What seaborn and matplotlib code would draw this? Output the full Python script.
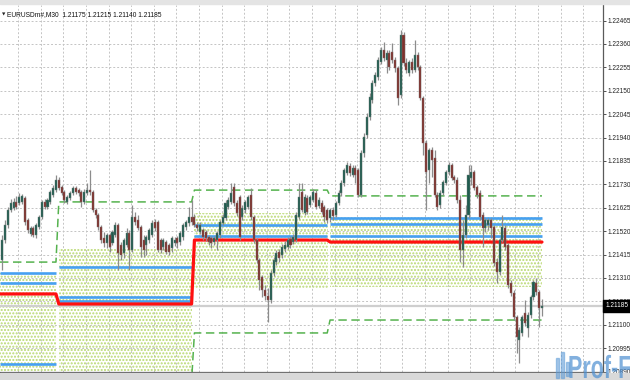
import numpy as np
import pandas as pd
import matplotlib
matplotlib.use("Agg")
import matplotlib.pyplot as plt
import matplotlib.transforms as mtransforms
from matplotlib.patches import Rectangle, PathPatch
from matplotlib.textpath import TextPath
from matplotlib.font_manager import FontProperties
import seaborn as sns

# ---------------- data ----------------
opens = [1.21391,1.21480,1.21547,1.21615,1.21624,1.21651,1.21646,1.21651,1.21669,1.21570,
         1.21507,1.21534,1.21503,1.21538,1.21583,1.21651,1.21628,1.21651,1.21682,1.21704,
         1.21749,1.21718,1.21696,1.21651,1.21669,1.21691,1.21713,1.21704,1.21696,1.21651,
         1.21691,1.21704,1.21696,1.21615,1.21592,1.21538,1.21489,1.21467,1.21503,1.21467,
         1.21503,1.21547,1.21458,1.21422,1.21458,1.21512,1.21435,1.21583,1.21570,1.21538,
         1.21480,1.21458,1.21480,1.21503,1.21561,1.21561,1.21480,1.21449,1.21471,1.21458,
         1.21444,1.21467,1.21489,1.21471,1.21494,1.21538,1.21556,1.21583,1.21583,1.21547,
         1.21516,1.21525,1.21516,1.21494,1.21489,1.21471,1.21480,1.21503,1.21556,1.21579,
         1.21628,1.21651,1.21718,1.21646,1.21673,1.21583,1.21615,1.21628,1.21682,1.21583,
         1.21480,1.21391,1.21314,1.21256,1.21229,1.21211,1.21332,1.21381,1.21426,1.21413,
         1.21440,1.21449,1.21485,1.21471,1.21480,1.21583,1.21696,1.21601,1.21669,1.21637,
         1.21660,1.21691,1.21633,1.21646,1.21628,1.21615,1.21579,1.21615,1.21592,1.21646,
         1.21691,1.21736,1.21781,1.21812,1.21772,1.21803,1.21794,1.21682,1.21870,1.21951,
         1.22032,1.22108,1.22185,1.22212,1.22279,1.22333,1.22288,1.22319,1.22324,1.22288,
         1.22252,1.22131,1.22400,1.22274,1.22229,1.22279,1.22243,1.22310,1.22256,1.22117,
         1.21915,1.21794,1.21884,1.21848,1.21682,1.21637,1.21691,1.21736,1.21785,1.21817,
         1.21763,1.21749,1.21660,1.21435,1.21503,1.21592,1.21758,1.21785,1.21718,1.21691,
         1.21592,1.21534,1.21547,1.21570,1.21538,1.21381,1.21337,1.21480,1.21534,1.21458,
         1.21287,1.21242,1.21135,1.21031,1.21063,1.21153,1.21085,1.21144,1.21224,1.21287,
         1.21247,1.21175]
highs = [1.21503,1.21570,1.21628,1.21664,1.21669,1.21678,1.21691,1.21687,1.21678,1.21579,
         1.21543,1.21543,1.21556,1.21592,1.21660,1.21664,1.21669,1.21704,1.21727,1.21772,
         1.21763,1.21727,1.21704,1.21682,1.21700,1.21722,1.21722,1.21713,1.21704,1.21709,
         1.21736,1.21794,1.21704,1.21624,1.21601,1.21547,1.21516,1.21512,1.21512,1.21525,
         1.21561,1.21556,1.21471,1.21489,1.21534,1.21525,1.21637,1.21606,1.21592,1.21547,
         1.21503,1.21503,1.21534,1.21570,1.21574,1.21570,1.21489,1.21489,1.21480,1.21467,
         1.21498,1.21494,1.21498,1.21520,1.21556,1.21570,1.21628,1.21660,1.21597,1.21561,
         1.21561,1.21534,1.21525,1.21503,1.21498,1.21498,1.21520,1.21570,1.21597,1.21660,
         1.21673,1.21736,1.21736,1.21660,1.21682,1.21637,1.21660,1.21682,1.21713,1.21592,
         1.21489,1.21399,1.21323,1.21278,1.21265,1.21346,1.21404,1.21435,1.21440,1.21462,
         1.21476,1.21494,1.21498,1.21507,1.21606,1.21736,1.21736,1.21687,1.21682,1.21682,
         1.21709,1.21704,1.21673,1.21660,1.21637,1.21624,1.21624,1.21628,1.21655,1.21704,
         1.21749,1.21803,1.21830,1.21826,1.21817,1.21817,1.21803,1.21884,1.21960,1.22050,
         1.22140,1.22198,1.22234,1.22301,1.22346,1.22369,1.22333,1.22333,1.22364,1.22301,
         1.22261,1.22422,1.22413,1.22297,1.22288,1.22297,1.22378,1.22324,1.22265,1.22126,
         1.21929,1.21893,1.21897,1.21884,1.21696,1.21704,1.21749,1.21794,1.21830,1.21826,
         1.21772,1.21763,1.21682,1.21570,1.21637,1.21817,1.21817,1.21794,1.21727,1.21704,
         1.21606,1.21579,1.21579,1.21579,1.21547,1.21399,1.21489,1.21592,1.21547,1.21467,
         1.21301,1.21256,1.21144,1.21090,1.21144,1.21211,1.21157,1.21233,1.21301,1.21310,
         1.21256,1.21215]
lows = [1.21346,1.21467,1.21534,1.21606,1.21615,1.21619,1.21637,1.21642,1.21547,1.21512,
        1.21498,1.21494,1.21489,1.21529,1.21574,1.21619,1.21619,1.21642,1.21673,1.21696,
        1.21704,1.21682,1.21646,1.21642,1.21660,1.21682,1.21687,1.21678,1.21628,1.21642,
        1.21682,1.21682,1.21606,1.21579,1.21525,1.21467,1.21449,1.21444,1.21426,1.21458,
        1.21494,1.21346,1.21391,1.21399,1.21449,1.21346,1.21426,1.21547,1.21525,1.21404,
        1.21404,1.21413,1.21467,1.21494,1.21520,1.21426,1.21422,1.21435,1.21417,1.21413,
        1.21426,1.21453,1.21444,1.21458,1.21480,1.21525,1.21543,1.21547,1.21538,1.21520,
        1.21507,1.21480,1.21476,1.21458,1.21444,1.21458,1.21435,1.21489,1.21547,1.21570,
        1.21619,1.21642,1.21633,1.21588,1.21480,1.21570,1.21601,1.21619,1.21570,1.21467,
        1.21377,1.21256,1.21224,1.21211,1.21112,1.21197,1.21319,1.21368,1.21381,1.21399,
        1.21426,1.21440,1.21444,1.21462,1.21471,1.21574,1.21606,1.21592,1.21597,1.21628,
        1.21651,1.21619,1.21624,1.21597,1.21561,1.21556,1.21561,1.21570,1.21583,1.21637,
        1.21678,1.21722,1.21772,1.21767,1.21763,1.21736,1.21673,1.21673,1.21853,1.21938,
        1.22019,1.22095,1.22171,1.22198,1.22270,1.22283,1.22229,1.22243,1.22274,1.22234,
        1.22086,1.22117,1.22261,1.22229,1.22216,1.22229,1.22234,1.22243,1.22108,1.21862,
        1.21615,1.21736,1.21763,1.21673,1.21615,1.21624,1.21682,1.21727,1.21772,1.21749,
        1.21736,1.21646,1.21381,1.21359,1.21489,1.21579,1.21727,1.21704,1.21669,1.21570,
        1.21449,1.21516,1.21525,1.21489,1.21364,1.21287,1.21323,1.21471,1.21435,1.21265,
        1.21229,1.21121,1.20973,1.20928,1.21049,1.21094,1.21045,1.21130,1.21211,1.21233,
        1.21090,1.21140]
closes = [1.21480,1.21547,1.21615,1.21646,1.21651,1.21628,1.21673,1.21678,1.21561,1.21525,
          1.21534,1.21503,1.21547,1.21583,1.21651,1.21628,1.21660,1.21696,1.21713,1.21749,
          1.21713,1.21691,1.21660,1.21673,1.21691,1.21713,1.21696,1.21691,1.21651,1.21696,
          1.21704,1.21696,1.21615,1.21592,1.21538,1.21480,1.21467,1.21503,1.21449,1.21516,
          1.21547,1.21422,1.21413,1.21480,1.21512,1.21435,1.21583,1.21561,1.21534,1.21449,
          1.21435,1.21494,1.21525,1.21556,1.21534,1.21435,1.21435,1.21480,1.21426,1.21426,
          1.21489,1.21480,1.21467,1.21512,1.21547,1.21561,1.21583,1.21561,1.21547,1.21534,
          1.21547,1.21494,1.21489,1.21471,1.21467,1.21489,1.21512,1.21561,1.21583,1.21646,
          1.21660,1.21691,1.21646,1.21601,1.21494,1.21624,1.21651,1.21673,1.21583,1.21480,
          1.21391,1.21301,1.21256,1.21229,1.21211,1.21332,1.21391,1.21422,1.21399,1.21449,
          1.21458,1.21480,1.21458,1.21494,1.21592,1.21673,1.21615,1.21673,1.21606,1.21673,
          1.21696,1.21628,1.21660,1.21606,1.21583,1.21570,1.21615,1.21588,1.21646,1.21691,
          1.21736,1.21794,1.21817,1.21781,1.21803,1.21772,1.21682,1.21870,1.21942,1.22032,
          1.22122,1.22185,1.22220,1.22288,1.22333,1.22297,1.22319,1.22256,1.22288,1.22252,
          1.22117,1.22400,1.22274,1.22243,1.22279,1.22243,1.22310,1.22256,1.22117,1.21915,
          1.21785,1.21884,1.21839,1.21682,1.21628,1.21691,1.21740,1.21785,1.21817,1.21758,
          1.21749,1.21660,1.21435,1.21503,1.21592,1.21772,1.21785,1.21713,1.21682,1.21583,
          1.21534,1.21570,1.21570,1.21534,1.21377,1.21337,1.21480,1.21538,1.21449,1.21278,
          1.21242,1.21135,1.21045,1.21076,1.21135,1.21108,1.21144,1.21224,1.21292,1.21247,
          1.21175,1.21185]

symbol_title = "EURUSDm#,M30  1.21175 1.21215 1.21140 1.21185"
last_price = 1.21185
last_label = "1.21185"
price_ticks = [1.20890, 1.20995, 1.21100, 1.21205, 1.21310, 1.21415, 1.21520, 1.21625,
               1.21730, 1.21835, 1.21940, 1.22045, 1.22150, 1.22255, 1.22360, 1.22465]
price_tick_labels = ["1.20890", "1.20995", "1.21100", "1.21205", "1.21310", "1.21415",
                     "1.21520", "1.21625", "1.21730", "1.21835", "1.21940", "1.22045",
                     "1.22150", "1.22255", "1.22360", "1.22465"]

# daily indicator levels (one entry per trading day shown)
day_first_bar = [0, 20, 68, 116]
day_last_bar = [19, 67, 115, 191]
red_levels = [1.21238, 1.21193, 1.21480, 1.21471]
blue_levels = [[1.21332, 1.21287, 1.20924],
               [1.21359, 1.21224, 1.21206],
               [1.21547, 1.21498],
               [1.21579, 1.21552, 1.21498]]
zone_top = [1.21332, 1.21440, 1.21601, 1.21583]
zone_bottom = [1.20850, 1.20850, 1.21265, 1.21269]
upper_dash = [1.21381, 1.21651, 1.21704, 1.21678]
lower_dash = [np.nan, 1.20850, 1.21063, 1.21121]

watermark = "Prof-FX"

# ---------------- styling ----------------
sns.set_theme(style="white")
plt.rcParams["font.family"] = ["Liberation Sans", "DejaVu Sans"]
plt.rcParams["hatch.linewidth"] = 1.0

BULL = "#1f5b4e"
BEAR = "#80302c"
WICK = "#8c8c8c"
GRID = "#c4c4c4"
ZONE = "#b8d970"
DASH = "#55b24e"
BLUE = "#46a0f2"
RED = "#ff1010"

W, H = 630, 380
fig = plt.figure(figsize=(W / 100, H / 100), dpi=100)
fig.patch.set_facecolor("white")

ax_top_px, ax_bot_px, ax_right_px = 5, 372, 603
ax = fig.add_axes([0, (H - ax_bot_px) / H, ax_right_px / W, (ax_bot_px - ax_top_px) / H])
ax.set_facecolor("white")

df = pd.DataFrame({"open": opens, "high": highs, "low": lows, "close": closes})
df["bar"] = np.arange(len(df))

# dotted zones
for f, l, top, bot in zip(day_first_bar, day_last_bar, zone_top, zone_bottom):
    x0 = f - 0.8 if f == 0 else f - 0.1
    ax.fill_between([x0, l + 0.1], bot, top, facecolor="none", edgecolor=ZONE,
                    hatch=".....", linewidth=0, zorder=1)

# current price line
ax.axhline(last_price, color="#cfcfcf", lw=1.6, zorder=1.2)


def step_path(levels):
    xs, ys = [], []
    for f, l, v in zip(day_first_bar, day_last_bar, levels):
        xs += [f - 0.8 if f == 0 else f, l]
        ys += [v, v]
    return pd.DataFrame({"x": xs, "y": ys})


# dashed green zone borders (through seaborn)
up_df = step_path(upper_dash)
sns.lineplot(data=up_df, x="x", y="y", sort=False, estimator=None, ax=ax,
             color=DASH, lw=1.1, zorder=2)
ax.lines[-1].set_dashes((5.5, 3))
low_df = step_path(lower_dash).dropna()
low_df = pd.concat([pd.DataFrame({"x": [day_last_bar[1]], "y": [lower_dash[1]]}), low_df])
sns.lineplot(data=low_df, x="x", y="y", sort=False, estimator=None, ax=ax,
             color=DASH, lw=1.1, zorder=2)
ax.lines[-1].set_dashes((5.5, 3))

# blue levels
for f, l, levels in zip(day_first_bar, day_last_bar, blue_levels):
    x0 = f - 0.8 if f == 0 else f
    ax.hlines(levels, x0, l, color=BLUE, lw=1.9, zorder=2.2)

# red level line (seaborn)
red_df = step_path(red_levels)
sns.lineplot(data=red_df, x="x", y="y", sort=False, estimator=None, ax=ax,
             color=RED, lw=2.3, zorder=2.5)

# candles
body_lo = np.minimum(df["open"], df["close"])
body_h = np.maximum((df["close"] - df["open"]).abs(), 0.00004)
up = df["close"] >= df["open"]
ax.vlines(df["bar"], df["low"], df["high"], color=WICK, lw=0.9, zorder=3)
ax.bar(df["bar"][up], body_h[up], bottom=body_lo[up], width=0.72, color=BULL,
       edgecolor="#6f7f7a", linewidth=0.3, zorder=4)
ax.bar(df["bar"][~up], body_h[~up], bottom=body_lo[~up], width=0.72, color=BEAR,
       edgecolor="#7f6f6f", linewidth=0.3, zorder=4)

# scales, grid
ax.set_xlim(-0.81, 212.6)
ax.set_ylim(1.208878, 1.225346)
ax.set_yticks(price_ticks)
ax.set_yticklabels(price_tick_labels)
ax.set_xticks(np.arange(5.6, 212.6, 8))
ax.set_xticklabels([])
ax.set_xlabel("")
ax.set_ylabel("")
ax.grid(True, color=GRID, linestyle=(0, (2, 2)), linewidth=0.7, zorder=0)
ax.set_axisbelow(True)

ax.yaxis.tick_right()
ax.tick_params(axis="y", which="both", direction="out", length=2.2, width=0.6,
               color="#333333", pad=1.2, labelsize=4.7, labelcolor="#222222", right=True, left=False)
ax.tick_params(axis="x", length=0)
for side in ["top", "left"]:
    ax.spines[side].set_visible(False)
ax.spines["right"].set_color("#5a5a5a")
ax.spines["right"].set_linewidth(0.9)
ax.spines["bottom"].set_color("#5a5a5a")
ax.spines["bottom"].set_linewidth(0.9)

# current price box on the scale
blend = mtransforms.blended_transform_factory(ax.transAxes, ax.transData)
ax.text(1.004, last_price, last_label, transform=blend, ha="left", va="center",
        fontsize=4.7, color="white", zorder=10, clip_on=False,
        bbox=dict(boxstyle="square,pad=0.35", fc="black", ec="black"))

# frame strips
fig.patches.append(Rectangle((0, 1 - 4 / H), 1, 4 / H, transform=fig.transFigure,
                             color="#e4e4e4", zorder=0))
fig.patches.append(Rectangle((0, 0), 1, (H - ax_bot_px - 1) / H, transform=fig.transFigure,
                             color="#d9d9d9", zorder=0))

# title
fig.text(1.5 / W, 1 - 15 / H, "\u25BC", fontsize=3.2, color="#222222", va="center",
         family=["DejaVu Sans"])
fig.text(7 / W, 1 - 15 / H, symbol_title, fontsize=4.8, color="#111111", va="center")

# watermark: small candle icon + tall condensed lettering
for bx, by, bh in [(556, 358, 20), (561, 352, 26), (566, 362, 14)]:
    fig.patches.append(Rectangle((bx / W, 1 - (by + bh) / H), 3 / W, bh / H,
                                 transform=fig.transFigure, color="#5d9ad6", alpha=0.55,
                                 zorder=19))
wm_path = TextPath((0, 0), watermark, size=1,
                   prop=FontProperties(family="Liberation Sans", weight="bold"))
wm_tr = mtransforms.Affine2D().scale(21.5, 32).translate(568, H - 378)
fig.patches.append(PathPatch(wm_path, transform=wm_tr, facecolor="#4d8fd1",
                             edgecolor="none", alpha=0.7, zorder=20))

fig.savefig("out.png", dpi=100)
